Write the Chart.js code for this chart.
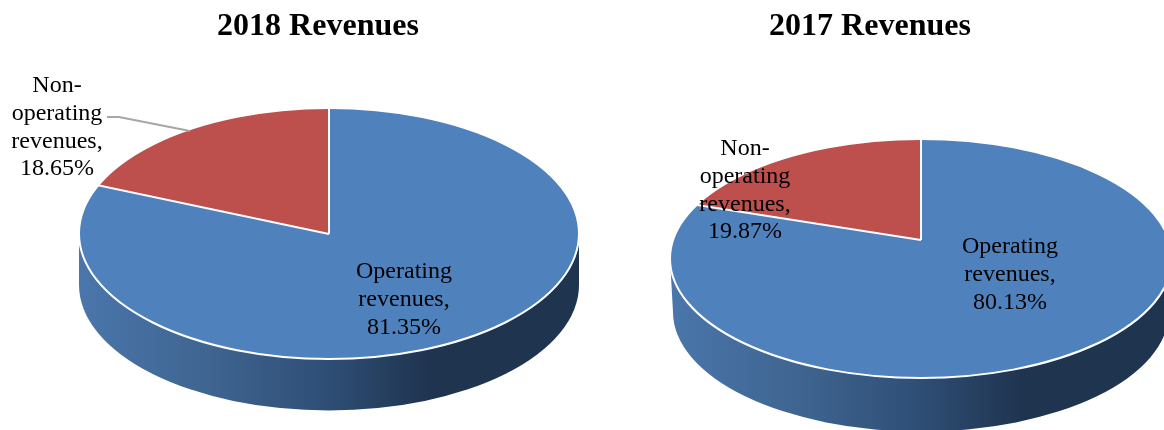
<!DOCTYPE html>
<html>
<head>
<meta charset="utf-8">
<script src="https://cdn.jsdelivr.net/npm/chart.js@4/dist/chart.umd.min.js"></script>
<style>
html,body{margin:0;padding:0;background:#fff;width:1164px;height:430px;overflow:hidden}
canvas{position:absolute;top:0}
#c2018{left:0}
#c2017{left:576px}
</style>
</head>
<body>
<canvas id="c2018" width="636" height="430"></canvas>
<canvas id="c2017" width="588" height="430"></canvas>
<script>
const categories = ['Operating revenues', 'Non-operating revenues'];
const values2018 = [81.35, 18.65];
const values2017 = [80.13, 19.87];
const titles = ['2018 Revenues', '2017 Revenues'];
const sliceColors = ['#4F81BD', '#BD4F4C'];

const SERIF = '"Liberation Serif", "Times New Roman", serif';

const view2018 = {
  cx: 329, apexY: 234, cy: 233.5, rx: 250, ry: 125.5, tilt: 0.5,
  sideRx: 250, sideCy: 285, sideRy: 125.5,
  labels: [{x: 404, y: 272}, {x: 57, y: 86}],
  leader: [[107, 117], [119, 117], [190, 131]]
};
const view2017 = {
  cx: 345, apexY: 240, cy: 258.5, rx: 251, ry: 119.5, tilt: 0.467,
  sideRx: 248, sideCy: 312, sideRy: 119.5,
  labels: [{x: 434, y: 247}, {x: 169, y: 149}],
  leader: null
};

function labelLines(name, value) {
  const parts = name.split(/(?<=-)| /);
  parts[parts.length - 1] += ',';
  return parts.concat(value.toFixed(2) + '%');
}

const pie3d = {
  id: 'pie3d',
  beforeDatasetsDraw(chart, args, v) {
    const ctx = chart.ctx;
    const left = v.cx - Math.max(v.rx, v.sideRx);
    const right = v.cx + Math.max(v.rx, v.sideRx);
    const g = ctx.createLinearGradient(left, 0, right, 0);
    g.addColorStop(0, '#4A76AB');
    g.addColorStop(0.25, '#3F6591');
    g.addColorStop(0.5, '#2E4E75');
    g.addColorStop(0.7, '#1F344F');
    g.addColorStop(1, '#1F344F');
    ctx.save();
    ctx.fillStyle = g;
    ctx.beginPath();
    ctx.moveTo(v.cx - v.rx, v.cy);
    ctx.lineTo(v.cx - v.sideRx, v.sideCy);
    ctx.ellipse(v.cx, v.sideCy, v.sideRx, v.sideRy, 0, Math.PI, 0, true);
    ctx.lineTo(v.cx + v.rx, v.cy);
    ctx.closePath();
    ctx.fill();
    ctx.restore();

    const arc = chart.getDatasetMeta(0).data[0];
    const k = v.rx * 1.3 / arc.outerRadius;
    ctx.save();
    ctx.beginPath();
    ctx.ellipse(v.cx, v.cy, v.rx, v.ry, 0, 0, Math.PI * 2);
    ctx.clip();
    ctx.translate(v.cx, v.apexY);
    ctx.scale(k, k * v.tilt);
    ctx.translate(-arc.x, -arc.y);
  },
  afterDatasetsDraw(chart, args, v) {
    const ctx = chart.ctx;
    ctx.restore();
    const arcs = chart.getDatasetMeta(0).data;
    const L = v.rx * 1.3;

    ctx.save();
    ctx.beginPath();
    ctx.ellipse(v.cx, v.cy, v.rx, v.ry, 0, 0, Math.PI * 2);
    ctx.clip();
    ctx.strokeStyle = '#fff';
    ctx.lineWidth = 2;
    arcs.forEach(a => {
      ctx.beginPath();
      ctx.moveTo(v.cx, v.apexY);
      ctx.lineTo(v.cx + Math.cos(a.startAngle) * L, v.apexY + Math.sin(a.startAngle) * L * v.tilt);
      ctx.stroke();
    });
    ctx.restore();

    ctx.save();
    ctx.strokeStyle = '#fff';
    ctx.lineWidth = 2;
    ctx.beginPath();
    ctx.ellipse(v.cx, v.cy, v.rx, v.ry, 0, 0, Math.PI * 2);
    ctx.stroke();

    if (v.leader) {
      ctx.strokeStyle = '#A6A6A6';
      ctx.lineWidth = 2;
      ctx.beginPath();
      v.leader.forEach((p, i) => i ? ctx.lineTo(p[0], p[1]) : ctx.moveTo(p[0], p[1]));
      ctx.stroke();
    }

    ctx.fillStyle = '#000';
    ctx.font = '24px ' + SERIF;
    ctx.textAlign = 'center';
    ctx.textBaseline = 'middle';
    const data = chart.data.datasets[0].data;
    chart.data.labels.forEach((name, i) => {
      labelLines(name, data[i]).forEach((line, j) => {
        ctx.fillText(line, v.labels[i].x, v.labels[i].y + j * 27.7);
      });
    });
    ctx.restore();
  }
};

function makeChart(id, title, values, view) {
  return new Chart(document.getElementById(id), {
    type: 'pie',
    data: {
      labels: categories,
      datasets: [{data: values, backgroundColor: sliceColors, borderWidth: 0, clip: false}]
    },
    options: {
      responsive: false,
      animation: false,
      events: [],
      plugins: {
        legend: {display: false},
        tooltip: {enabled: false},
        title: {
          display: true,
          text: title,
          color: '#000',
          font: {family: SERIF, size: 32, weight: 'bold'},
          padding: {top: 8, bottom: 4}
        },
        pie3d: view
      }
    },
    plugins: [pie3d]
  });
}

makeChart('c2018', titles[0], values2018, view2018);
makeChart('c2017', titles[1], values2017, view2017);
</script>
</body>
</html>
